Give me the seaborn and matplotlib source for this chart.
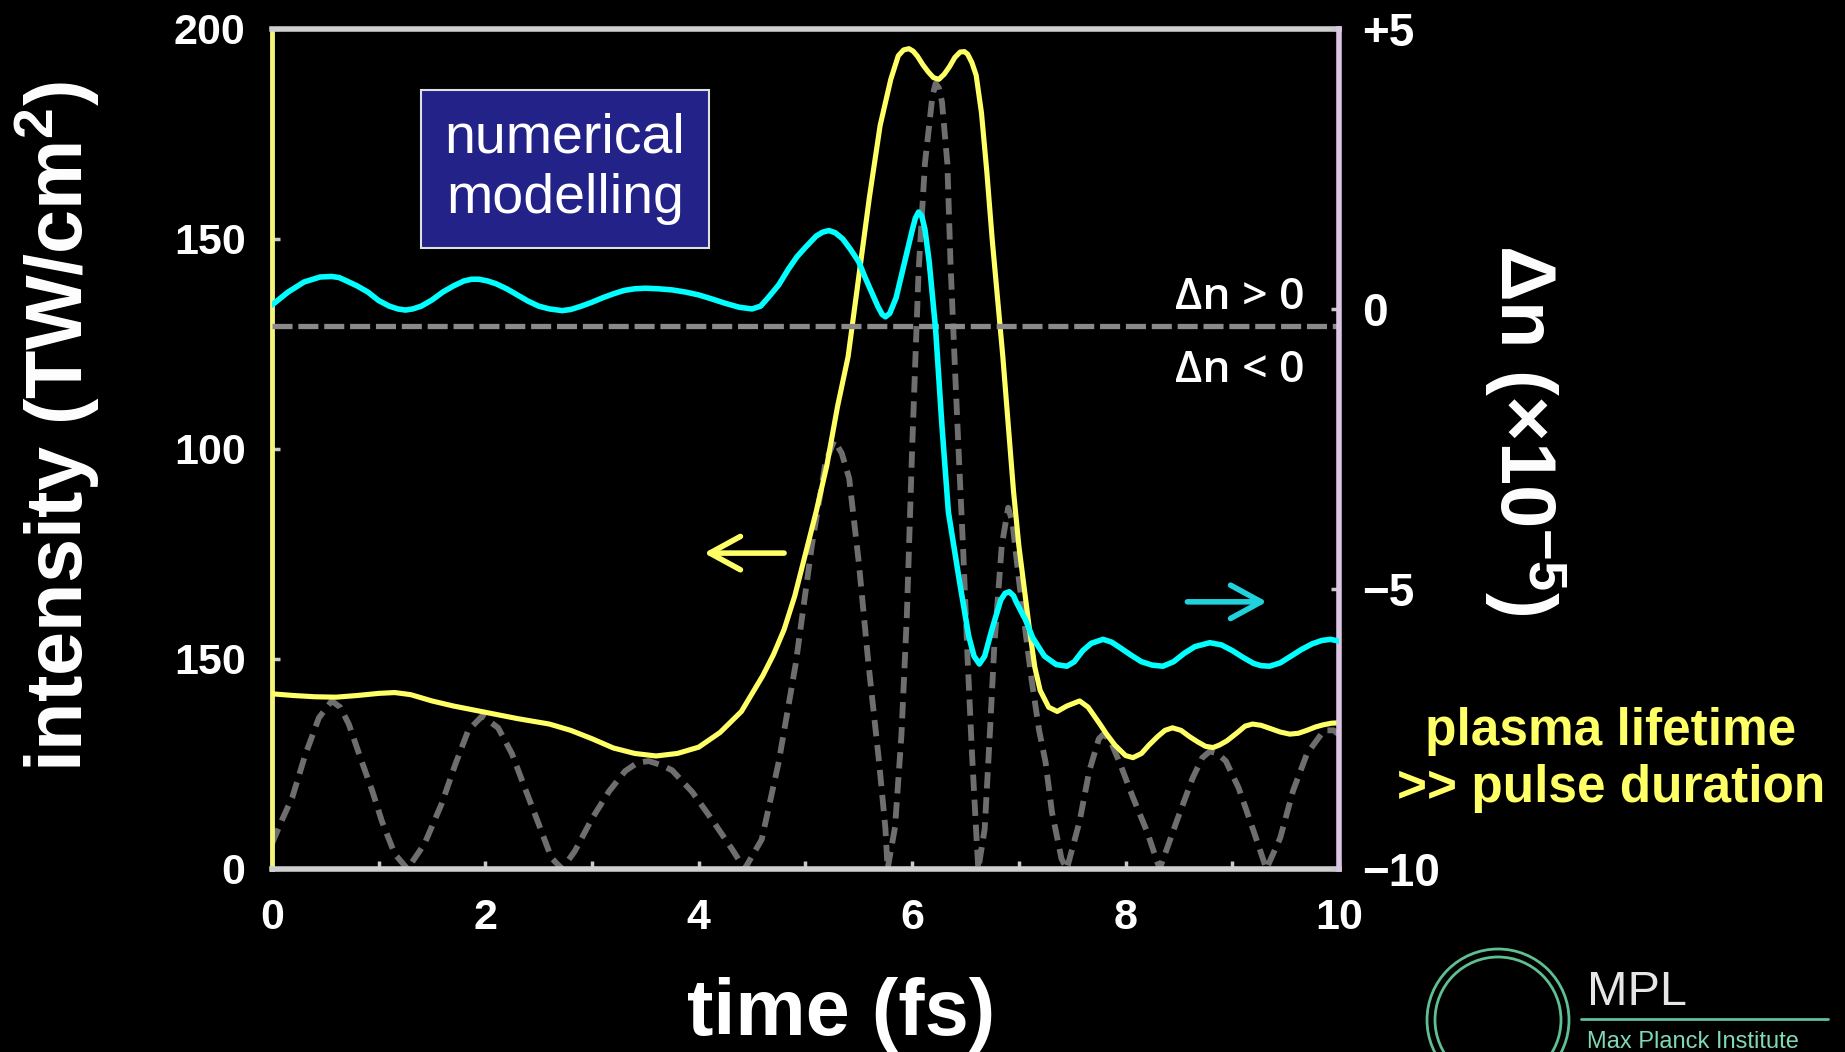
import matplotlib
matplotlib.use("Agg")
import matplotlib.pyplot as plt
from matplotlib.patches import Rectangle, Circle
from matplotlib.lines import Line2D
from matplotlib.ticker import MultipleLocator
import pandas as pd
import seaborn as sns

# --- values ---
# yellow: peak intensity (left axis)
t_int = [0.0, 0.2, 0.4, 0.6, 0.8, 1.0, 1.15, 1.3, 1.5, 1.7, 2.0, 2.3, 2.6, 2.8,
         3.0, 3.2, 3.4, 3.6, 3.8, 4.0, 4.2, 4.4, 4.6, 4.7, 4.8, 4.9,
         5.0, 5.1, 5.2, 5.3, 5.4, 5.5, 5.6, 5.7, 5.8, 5.87, 5.92, 5.97,
         6.01, 6.05, 6.1, 6.15, 6.2, 6.25, 6.3, 6.35, 6.4, 6.45, 6.49, 6.52, 6.56,
         6.6, 6.65, 6.7, 6.75, 6.8, 6.85, 6.9, 6.95,
         7.0, 7.05, 7.1, 7.15, 7.2, 7.28, 7.36, 7.45, 7.57, 7.65, 7.76, 7.82, 7.9,
         8.0, 8.07, 8.15, 8.22, 8.3, 8.37, 8.44, 8.52, 8.6, 8.68, 8.75, 8.82, 8.88, 8.95,
         9.05, 9.12, 9.19, 9.27, 9.35, 9.45, 9.54, 9.62, 9.7, 9.78, 9.85, 9.93, 10.0]
intensity = [41.7, 41.3, 41.0, 40.9, 41.3, 41.8, 42.0, 41.5, 40.0, 38.8, 37.3, 35.8, 34.5, 33.0,
             31.0, 28.8, 27.5, 26.9, 27.5, 29.0, 32.5, 37.5, 46.0, 51.0, 57.0, 65.0,
             75.0, 85.0, 96.0, 110.0, 122.0, 141.0, 160.0, 177.0, 188.0, 193.6, 195.0, 195.3,
             194.7, 193.5, 191.5, 189.8, 188.4, 188.0, 189.2, 191.0, 193.2, 194.5, 194.6, 194.0, 192.0,
             189.0, 180.0, 166.0, 150.0, 136.0, 122.0, 106.0, 90.0,
             77.0, 67.0, 57.0, 48.0, 42.5, 38.5, 37.5, 38.8, 40.0, 38.5, 34.5, 32.2, 29.5,
             27.0, 26.5, 27.5, 29.5, 31.5, 33.0, 33.6, 33.0, 31.5, 30.2, 29.2, 28.9, 29.5, 30.5,
             32.5, 34.0, 34.5, 34.2, 33.5, 32.6, 32.1, 32.3, 33.0, 33.8, 34.3, 34.7, 34.8]

# cyan: refractive index change (right axis, x1e-5)
t_dn = [0.0, 0.15, 0.3, 0.45, 0.56, 0.63, 0.7, 0.8, 0.9, 1.0, 1.1, 1.18, 1.25, 1.32, 1.4,
        1.5, 1.6, 1.7, 1.8, 1.87, 1.94, 2.02, 2.1, 2.2, 2.3, 2.4, 2.5, 2.6, 2.72, 2.8,
        2.9, 3.0, 3.1, 3.2, 3.3, 3.4, 3.5, 3.62, 3.75, 3.88, 4.0, 4.12, 4.25, 4.38, 4.5,
        4.58, 4.65, 4.75, 4.84, 4.92, 5.0, 5.1, 5.16, 5.22, 5.28, 5.35, 5.42, 5.5, 5.56,
        5.62, 5.68, 5.72, 5.75, 5.79, 5.85, 5.93, 6.0, 6.03, 6.06, 6.09, 6.12, 6.16,
        6.22, 6.28, 6.34, 6.44, 6.53, 6.58, 6.63, 6.68, 6.75, 6.83, 6.87, 6.91, 6.95, 6.98,
        7.06, 7.13, 7.24, 7.35, 7.45, 7.52, 7.6, 7.68, 7.79, 7.87, 7.95, 8.05, 8.15, 8.25,
        8.35, 8.45, 8.55, 8.65, 8.79, 8.9, 9.0, 9.1, 9.2, 9.27, 9.35, 9.45, 9.55, 9.65,
        9.75, 9.84, 9.92, 10.0]
delta_n = [0.07, 0.3, 0.48, 0.57, 0.58, 0.56, 0.5, 0.41, 0.3, 0.15, 0.05, 0.0, -0.02, 0.0, 0.05,
           0.16, 0.3, 0.41, 0.5, 0.53, 0.53, 0.5, 0.45, 0.36, 0.25, 0.14, 0.05, 0.0, -0.03, -0.01,
           0.05, 0.12, 0.2, 0.27, 0.33, 0.36, 0.37, 0.36, 0.34, 0.3, 0.25, 0.18, 0.1, 0.03, 0.0,
           0.05, 0.2, 0.43, 0.71, 0.93, 1.1, 1.3, 1.37, 1.4, 1.36, 1.25, 1.07, 0.84, 0.56,
           0.3, 0.04, -0.1, -0.14, -0.08, 0.2, 0.84, 1.4, 1.62, 1.73, 1.66, 1.42, 0.84,
           -0.36, -2.1, -3.63, -4.82, -5.84, -6.2, -6.34, -6.2, -5.71, -5.2, -5.08, -5.05, -5.12, -5.25,
           -5.54, -5.87, -6.2, -6.35, -6.38, -6.3, -6.1, -5.97, -5.9, -5.95, -6.05, -6.18, -6.3, -6.36,
           -6.38, -6.3, -6.15, -6.03, -5.96, -6.0, -6.1, -6.22, -6.33, -6.37, -6.38, -6.32, -6.2, -6.08,
           -5.98, -5.92, -5.9, -5.93]

# gray dashed: field envelope with carrier (left axis)
t_field = [0.0, 0.1, 0.19, 0.31, 0.44, 0.56, 0.64, 0.72, 0.84, 0.94, 1.03, 1.15, 1.27,
           1.43, 1.59, 1.72, 1.84, 1.97, 2.12, 2.25, 2.37, 2.5, 2.62, 2.72,
           2.84, 3.0, 3.16, 3.31, 3.42, 3.53, 3.64, 3.75, 3.94, 4.12, 4.31, 4.43,
           4.59, 4.75, 4.91, 5.06, 5.19, 5.27, 5.34, 5.41, 5.5, 5.59, 5.69, 5.75, 5.77,
           5.84, 5.9, 5.95, 6.0, 6.06, 6.12, 6.19, 6.22, 6.25, 6.28, 6.33, 6.36, 6.4,
           6.44, 6.48, 6.52, 6.56, 6.6, 6.62,
           6.68, 6.73, 6.77, 6.84, 6.9, 6.94, 7.0, 7.06, 7.12, 7.19, 7.25, 7.31, 7.4, 7.45,
           7.57, 7.66, 7.75, 7.79, 7.85, 7.95, 8.07, 8.2, 8.32,
           8.48, 8.63, 8.72, 8.79, 8.86, 8.94, 9.06, 9.19, 9.32,
           9.45, 9.57, 9.7, 9.86, 9.95, 10.0]
field = [6, 12, 17, 27, 36, 40, 38.5, 34.5, 25.7, 18.6, 11.4, 3.6, 0,
         6, 15.5, 25, 33, 36.4, 33.6, 27.4, 19.3, 10.7, 2.6, 0,
         4.3, 12, 18.5, 23.3, 25.2, 25.7, 24.8, 23.5, 18.3, 11.9, 4.8, 0,
         7, 25.5, 49, 77, 97, 102, 99, 93, 73, 49, 25.5, 9.5, 0,
         10, 32, 60, 100, 142, 168, 184, 187, 186, 182.6, 168, 144, 120,
         97, 75, 50, 28, 9, 0,
         9.5, 33, 53, 77, 86, 82.6, 69, 57, 45, 33, 25.5, 13.6, 2.4, 0,
         11.4, 23.3, 31, 32, 31, 25, 17, 9, 0,
         11.4, 21.7, 26.5, 28, 27.5, 25.7, 19.3, 9.8, 0,
         7.4, 18.6, 27.4, 33, 33, 32]

dn_zero_line = -0.3

time_ticks = [0, 2, 4, 6, 8, 10]
int_ticks = [0, 50, 100, 150, 200]
int_tick_labels = ['0', '150', '100', '150', '200']
dn_ticks = [5, 0, -5, -10]
dn_tick_labels = ['+5', '0', '\u22125', '\u221210']

YELLOW = '#ffff66'
CYAN = '#00ffff'

sns.set_theme(style='dark', rc={'axes.facecolor': 'black',
                                'figure.facecolor': 'black',
                                'savefig.facecolor': 'black',
                                'text.color': 'white'})
plt.rcParams['font.family'] = ['Liberation Sans', 'DejaVu Sans']
plt.rcParams['mathtext.fontset'] = 'custom'
plt.rcParams['mathtext.rm'] = 'Liberation Sans:bold'
plt.rcParams['mathtext.it'] = 'Liberation Sans:bold:italic'
plt.rcParams['mathtext.bf'] = 'Liberation Sans:bold'

fig = plt.figure(figsize=(18.45, 10.52), dpi=100)
ax = fig.add_axes([0.1474, 0.1740, 0.5783, 0.7985])
ax2 = ax.twinx()

df_int = pd.DataFrame({'time': t_int, 'intensity': intensity})
df_dn = pd.DataFrame({'time': t_dn, 'dn': delta_n})
df_field = pd.DataFrame({'time': t_field, 'field': field})

sns.lineplot(data=df_field, x='time', y='field', ax=ax, color='#6e6e6e', lw=4.2,
             linestyle=(0, (2.8, 1.5)), errorbar=None, zorder=2)
sns.lineplot(data=df_int, x='time', y='intensity', ax=ax, color=YELLOW, lw=3.7,
             errorbar=None, zorder=3, solid_joinstyle='round')
ax2.axhline(dn_zero_line, color='#8a8a8a', lw=3.8, linestyle=(0, (3.8, 1.1)), zorder=1)
sns.lineplot(data=df_dn, x='time', y='dn', ax=ax2, color=CYAN, lw=4.0,
             errorbar=None, zorder=3, solid_joinstyle='round')

ax.set_xlim(0, 10)
ax.set_ylim(0, 200)
ax2.set_ylim(-10, 5)
ax.set_xlabel('')
ax.set_ylabel('')
ax2.set_ylabel('')

ax.set_xticks(time_ticks)
ax.xaxis.set_minor_locator(MultipleLocator(1))
ax.set_yticks(int_ticks, int_tick_labels)
ax2.set_yticks(dn_ticks, dn_tick_labels)

tick_col = '#c8c8c8'
ax.tick_params(axis='x', which='both', direction='in', length=6, width=2.5, color=tick_col,
               labelsize=31, labelcolor='white', pad=21, bottom=True, top=False)
ax.tick_params(axis='y', direction='in', length=6, width=2.5, color=tick_col,
               labelsize=31, labelcolor='white', pad=19, left=True, right=False)
ax2.tick_params(axis='y', direction='in', length=6, width=2.5, color=tick_col,
                labelsize=33, labelcolor='white', pad=17, right=True, left=False)
for lab in ax.get_xticklabels() + ax.get_yticklabels() + ax2.get_yticklabels():
    lab.set_fontweight('bold')

for side in ['left', 'bottom', 'top']:
    ax2.spines[side].set_visible(False)
ax.spines['right'].set_visible(False)
ax.spines['left'].set_color('#f4f47a')
ax.spines['left'].set_linewidth(3.5)
ax.spines['bottom'].set_color('#cfcfcf')
ax.spines['bottom'].set_linewidth(4)
ax.spines['top'].set_color('#cfcfcf')
ax.spines['top'].set_linewidth(4)
ax2.spines['right'].set_color('#dcc4e4')
ax2.spines['right'].set_linewidth(4)

# annotation box
ax2.add_patch(Rectangle((0.1396, 0.7393), 0.27, 0.1881, transform=ax2.transAxes,
                        facecolor='#222288', edgecolor='#e0e0e0', lw=1.5, zorder=5))
ax2.text(0.2746, 0.8333, 'numerical\nmodelling', transform=ax2.transAxes, ha='center',
         va='center', fontsize=40, linespacing=1.2, color='white', zorder=6)

# sign labels either side of the dashed line
ax2.text(0.968, 0.6667, '\u0394n > 0', transform=ax2.transAxes, ha='right', va='baseline',
         fontsize=32, color='white', family=['Open Sans', 'DejaVu Sans'], fontweight='semibold')
ax2.text(0.968, 0.5798, '\u0394n < 0', transform=ax2.transAxes, ha='right', va='baseline',
         fontsize=32, color='white', family=['Open Sans', 'DejaVu Sans'], fontweight='semibold')

# axis-pointing arrows
ax2.annotate('', xy=(0.405, 0.376), xytext=(0.48, 0.376), xycoords='axes fraction',
             arrowprops=dict(arrowstyle='->,head_length=1.1,head_width=0.6', lw=4,
                             color=YELLOW, mutation_scale=20, shrinkA=0, shrinkB=0))
ax2.annotate('', xy=(0.9325, 0.318), xytext=(0.858, 0.318), xycoords='axes fraction',
             arrowprops=dict(arrowstyle='->,head_length=1.1,head_width=0.6', lw=4,
                             color='#20d2dc', mutation_scale=20, shrinkA=0, shrinkB=0))

# axis labels
fig.text(841 / 1845, 17 / 1052, 'time (fs)', ha='center', va='baseline', fontsize=57,
         fontweight='bold', color='white')
fig.text(57 / 1845, 0.5946, 'intensity (TW/cm$^2$)', rotation=90, ha='center', va='center',
         fontsize=57, fontweight='bold', color='white')
fig.text(1525 / 1845, 0.591, '\u0394n (\u00d710$^{-5}$)', rotation=-90, ha='center', va='center',
         fontsize=56, fontweight='bold', color='white')

# side note
fig.text(1611 / 1845, 0.2918, 'plasma lifetime', ha='center', va='baseline', fontsize=37,
         fontweight='bold', color=YELLOW)
fig.text(1611 / 1845, 0.2376, '>> pulse duration', ha='center', va='baseline', fontsize=37,
         fontweight='bold', color=YELLOW)

# institute mark, bottom right
fig.text(1587 / 1845, 47 / 1052, 'MPL', ha='left', va='baseline', fontsize=35, color='#e6e6e6')
fig.add_artist(Line2D([1581 / 1845, 1828 / 1845], [1 - 1019 / 1052] * 2,
                      transform=fig.transFigure, color='#5fbf9f', lw=2))
fig.text(1587 / 1845, 4 / 1052, 'Max Planck Institute', ha='left', va='baseline',
         fontsize=17, color='#80d8b4')
for r in (0.71, 0.63):
    fig.add_artist(Circle((14.98, 0.32), r, transform=fig.dpi_scale_trans, fill=False,
                          edgecolor='#5fbf90', lw=2))

fig.savefig('out.png', dpi=100, facecolor='black')
